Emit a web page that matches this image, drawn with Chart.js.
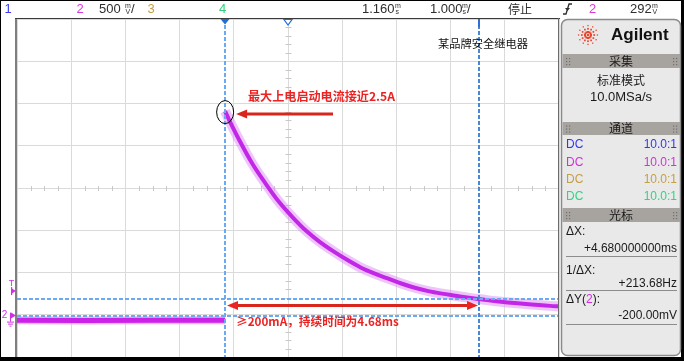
<!DOCTYPE html>
<html><head><meta charset="utf-8">
<script src="https://cdn.jsdelivr.net/npm/chart.js@4/dist/chart.umd.min.js"></script>
<style>html,body{margin:0;padding:0;background:#fff;overflow:hidden}canvas{display:block}</style>
</head><body>
<canvas id="c" width="684" height="361"></canvas>
<script>
// ---- axis ranges (ms, V) ----
const xMin = -3.84, xMax = 6.16, xDivs = 10;
const yMin = -0.49, yMax = 3.51, yDivs = 8;

// ---- channel 2 trace (time in ms, volts) ----
const baselineTimes = [-3.84, -2.6, -1.3, 0.0];
const baselineVolts = [-0.055, -0.057, -0.055, -0.056];
const decayTimes = [0, 0.1, 0.25, 0.5, 0.75, 1.0, 1.25, 1.5, 1.75, 2.0, 2.25, 2.5, 2.75, 3.0, 3.25, 3.5, 3.75, 4.0, 4.25, 4.5, 4.75, 5.0, 5.5, 6.0, 6.16];
const decayVolts = [2.42, 2.28, 2.09, 1.80, 1.56, 1.34, 1.16, 1.00, 0.87, 0.76, 0.66, 0.57, 0.50, 0.44, 0.38, 0.33, 0.29, 0.26, 0.235, 0.21, 0.19, 0.17, 0.14, 0.115, 0.11];

// ---- cursors ----
const cursorTimes = [0, 4.68];
const cursorVolts = [0.2, 0.0];
const triggerLevel = 0.29;

// ---- texts ----
const topTitle = "某品牌安全继电器";
const peakNote = "最大上电启动电流接近2.5A";
const durationNote = "≥200mA，持续时间为4.68ms";
const channelCoupling = ["DC", "DC", "DC", "DC"];
const channelProbe = ["10.0:1", "10.0:1", "10.0:1", "10.0:1"];
const channelColors = ["#3434f4", "#d42ee0", "#c4a044", "#30d484"];

const pts = (ts, vs) => ts.map((t, i) => ({ x: t, y: vs[i] }));
const SANS = "'Liberation Sans', Arial, sans-serif";
const CJK = "'Noto Sans CJK SC', sans-serif";

function txt(ctx, s, x, y, font, color, align) {
  ctx.font = font; ctx.fillStyle = color; ctx.textAlign = align || 'left'; ctx.textBaseline = 'middle';
  ctx.fillText(s, x, y);
}
function fitTxt(ctx, s, x, y, width, weight, family, color) {
  ctx.font = weight + ' 12px ' + family;
  const w = ctx.measureText(s).width;
  const size = 12 * width / w;
  txt(ctx, s, x, y, weight + ' ' + size.toFixed(2) + 'px ' + family, color, 'left');
}
function stacked(ctx, a, b, x, color) {
  txt(ctx, a, x, 6, '7px ' + SANS, color, 'left');
  txt(ctx, b, x + 0.5, 12.5, '7px ' + SANS, color, 'left');
}
function arrowHead(ctx, tipX, y, dir) {
  ctx.beginPath();
  ctx.moveTo(tipX, y);
  ctx.lineTo(tipX - dir * 11, y - 4.5);
  ctx.lineTo(tipX - dir * 11, y + 4.5);
  ctx.closePath(); ctx.fill();
}
function grip(ctx, x, y) {
  ctx.fillStyle = '#707070';
  for (let i = 0; i < 2; i++) for (let j = 0; j < 3; j++) ctx.fillRect(x + i * 3, y - 3 + j * 3, 1.2, 1.2);
}

const scopePlugin = {
  id: 'scope',
  beforeDraw(chart) {
    const c = chart.ctx; c.save();
    c.fillStyle = '#ffffff'; c.fillRect(0, 0, 684, 361);
    c.restore();
  },
  beforeDatasetsDraw(chart) {
    const c = chart.ctx, a = chart.chartArea, xs = chart.scales.x, ys = chart.scales.y;
    c.save();
    const cx = Math.round(xs.getPixelForValue((xMin + xMax) / 2)) + 0.5;
    const cy = Math.round(ys.getPixelForValue((yMin + yMax) / 2)) + 0.5;
    c.strokeStyle = '#c8c8c8'; c.lineWidth = 1;
    const dx = (a.right - a.left) / xDivs / 4;
    for (let i = 1; i < xDivs * 4; i++) {
      if (i % 4 === 0) continue;
      const x = Math.round(a.left + i * dx) + 0.5;
      c.beginPath(); c.moveTo(x, cy - 2.5); c.lineTo(x, cy + 2.5); c.stroke();
    }
    const dy = (a.bottom - a.top) / yDivs / 5;
    for (let i = 1; i < yDivs * 5; i++) {
      if (i % 5 === 0) continue;
      const y = Math.round(a.top + i * dy) + 0.5;
      c.beginPath(); c.moveTo(cx - 3, y); c.lineTo(cx + 3, y); c.stroke();
    }
    c.restore();
  },
  afterDatasetsDraw(chart) {
    const c = chart.ctx, a = chart.chartArea, xs = chart.scales.x, ys = chart.scales.y;
    c.save();
    // cursors
    c.lineWidth = 2; c.setLineDash([4, 2]);
    const x1 = Math.round(xs.getPixelForValue(cursorTimes[0]));
    const x2 = Math.round(xs.getPixelForValue(cursorTimes[1]));
    const y1 = Math.round(ys.getPixelForValue(cursorVolts[0]));
    const y2 = Math.round(ys.getPixelForValue(cursorVolts[1]));
    c.strokeStyle = '#6aaaf2';
    c.beginPath(); c.moveTo(x1, a.top); c.lineTo(x1, a.bottom); c.stroke();
    c.beginPath(); c.moveTo(a.left, y1); c.lineTo(a.right, y1); c.stroke();
    c.beginPath(); c.moveTo(a.left, y2); c.lineTo(a.right, y2); c.stroke();
    c.strokeStyle = '#4a86d6';
    c.beginPath(); c.moveTo(x2, a.top); c.lineTo(x2, a.bottom); c.stroke();
    c.setLineDash([]);
    c.fillStyle = '#2f6fd0'; c.fillRect(x2 - 1, a.top, 2, 8);

    // top markers
    c.fillStyle = '#1f6fd6';
    c.beginPath(); c.moveTo(x1 - 4.5, a.top); c.lineTo(x1 + 4.5, a.top); c.lineTo(x1, a.top + 5.5); c.closePath(); c.fill();
    const xc = xs.getPixelForValue((xMin + xMax) / 2);
    c.fillStyle = '#fff'; c.strokeStyle = '#1f6fd6'; c.lineWidth = 1.2;
    c.beginPath(); c.moveTo(xc - 4, a.top + 0.5); c.lineTo(xc + 4, a.top + 0.5); c.lineTo(xc, a.top + 6); c.closePath(); c.fill(); c.stroke();

    // ellipse around the peak
    const px = xs.getPixelForValue(decayTimes[0]);
    const py = ys.getPixelForValue(decayVolts[0]);
    c.strokeStyle = '#000'; c.lineWidth = 1;
    c.beginPath(); c.ellipse(px, py + 1, 8.5, 11.5, 0, 0, Math.PI * 2); c.stroke();

    // red arrow to peak
    const red = '#d8261c';
    c.strokeStyle = red; c.fillStyle = red; c.lineWidth = 3;
    const ay = py + 3;
    c.beginPath(); c.moveTo(333, ay); c.lineTo(px + 20, ay); c.stroke();
    arrowHead(c, px + 11, ay, -1);
    fitTxt(c, peakNote, 248, 96, 147, 'bold', CJK, '#ec2323');

    // duration double arrow
    const dyA = (y1 + y2) / 2 - 2;
    c.beginPath(); c.moveTo(x1 + 10, dyA); c.lineTo(x2 - 10, dyA); c.stroke();
    arrowHead(c, x1 + 2, dyA, -1);
    arrowHead(c, x2 - 1, dyA, 1);
    fitTxt(c, durationNote, 236, 322, 163, 'bold', CJK, '#ec2323');

    // title
    fitTxt(c, topTitle, 438, 44, 90, 'normal', CJK, '#111');
    c.restore();
  },
  afterDraw(chart) {
    const c = chart.ctx, a = chart.chartArea, ys = chart.scales.y;
    c.save();
    // plot borders
    c.fillStyle = '#7f7f7f'; c.fillRect(15, a.top, 2, a.bottom - a.top);
    c.fillStyle = '#3a3a3a'; c.fillRect(15, a.top - 1, a.right - 14, 1);
    c.fillStyle = '#6a6a6a'; c.fillRect(a.right - 1, a.top - 1, 1, a.bottom - a.top + 1);
    // outer frame
    c.fillStyle = '#000';
    c.fillRect(0, 357, 684, 4); c.fillRect(0, 0, 684, 1); c.fillRect(0, 0, 1, 361); c.fillRect(681, 0, 3, 361);

    // left markers
    const mag = '#d22ee6';
    const ty = ys.getPixelForValue(triggerLevel);
    txt(c, 'T', 11.5, ty - 8, '9px ' + SANS, mag, 'center');
    c.fillStyle = mag;
    c.beginPath(); c.moveTo(11, ty - 3); c.lineTo(16, ty); c.lineTo(11, ty + 3); c.closePath(); c.fill();
    c.fillRect(11, ty - 4, 1.2, 8);
    const gy = ys.getPixelForValue(0);
    txt(c, '2', 4.5, gy, '10px ' + SANS, mag, 'center');
    c.beginPath(); c.moveTo(11, gy - 3); c.lineTo(16, gy); c.lineTo(11, gy + 3); c.closePath(); c.fill();
    c.fillRect(10, gy - 3, 1, 9);
    c.fillRect(7, gy + 6, 7, 1); c.fillRect(8, gy + 8, 5, 1); c.fillRect(9.5, gy + 10, 2, 1);

    // top bar
    const dark = '#2e2e2e';
    txt(c, '1', 8, 9, '13px ' + SANS, '#3b3bf6', 'center');
    txt(c, '2', 80, 9, '13px ' + SANS, '#d83ad8', 'center');
    txt(c, '500', 99, 9, '13px ' + SANS, dark, 'left');
    stacked(c, 'm', 'V', 125, dark);
    txt(c, '/', 131, 9, '13px ' + SANS, dark, 'left');
    txt(c, '3', 151, 9, '13px ' + SANS, '#c4a044', 'center');
    txt(c, '4', 222.5, 9, '13px ' + SANS, '#2fcf7c', 'center');
    txt(c, '1.160', 362, 9, '13px ' + SANS, dark, 'left');
    stacked(c, 'm', 's', 395, dark);
    txt(c, '1.000', 430, 9, '13px ' + SANS, dark, 'left');
    stacked(c, 'm', 's', 462, dark);
    txt(c, '/', 467, 9, '13px ' + SANS, dark, 'left');
    txt(c, '停止', 508, 9, '12px ' + CJK, dark, 'left');
    // trigger edge icon
    c.strokeStyle = dark; c.lineWidth = 1.3;
    c.beginPath(); c.moveTo(563, 14); c.lineTo(566, 14); c.lineTo(569, 4); c.lineTo(572, 4); c.stroke();
    c.fillStyle = dark;
    c.beginPath(); c.moveTo(565, 8); c.lineTo(570, 8); c.lineTo(567.5, 11); c.closePath(); c.fill();
    txt(c, '2', 592.5, 9, '13px ' + SANS, '#d83ad8', 'center');
    txt(c, '292', 630, 9, '13px ' + SANS, dark, 'left');
    stacked(c, 'm', 'V', 652, dark);

    // right panel
    c.fillStyle = '#e9e9e9'; c.strokeStyle = '#8a8a8a'; c.lineWidth = 1.5;
    c.beginPath(); c.roundRect(561.5, 19.5, 119, 336, 6); c.fill(); c.stroke();
    // Agilent logo
    const lx = 588, ly = 35;
    c.fillStyle = '#e8452c';
    for (let k = 0; k < 12; k++) {
      const ang = k * Math.PI / 6;
      for (let r = 3; r <= 11; r += 3.2) {
        const s = r < 5 ? 2 : (r < 8 ? 1.7 : 1.3);
        c.fillRect(lx + Math.cos(ang) * r - s / 2, ly + Math.sin(ang) * r - s / 2, s, s);
      }
    }
    c.fillRect(lx - 1, ly - 1, 2, 2);
    txt(c, 'Agilent', 611, 35.5, 'bold 17px ' + SANS, '#111', 'left');
    // section headers
    const headers = [['采集', 54, 68], ['通道', 122, 135], ['光标', 208, 222]];
    headers.forEach(h => {
      c.fillStyle = '#a7a39f'; c.fillRect(562.5, h[1], 117.5, h[2] - h[1]);
      txt(c, h[0], 621, (h[1] + h[2]) / 2, '12px ' + CJK, '#1a1a1a', 'center');
      grip(c, 566, (h[1] + h[2]) / 2); grip(c, 673, (h[1] + h[2]) / 2);
    });
    txt(c, '标准模式', 621, 80, '12px ' + CJK, '#1a1a1a', 'center');
    txt(c, '10.0MSa/s', 621, 97, '13px ' + SANS, '#1a1a1a', 'center');
    const rowY = [145, 162.5, 180, 196.5];
    rowY.forEach((y, i) => {
      txt(c, channelCoupling[i], 566, y, '12px ' + SANS, channelColors[i], 'left');
      txt(c, channelProbe[i], 677, y, '12px ' + SANS, channelColors[i], 'right');
    });
    const blk = '#1a1a1a';
    txt(c, 'ΔX:', 566, 232, '12px ' + SANS, blk, 'left');
    txt(c, '+' + cursorTimes[1].toFixed(9) + 'ms', 677, 249, '12px ' + SANS, blk, 'right');
    txt(c, '1/ΔX:', 566, 271, '12px ' + SANS, blk, 'left');
    txt(c, '+' + (1000 / (cursorTimes[1] - cursorTimes[0])).toFixed(2) + 'Hz', 677, 284, '12px ' + SANS, blk, 'right');
    c.font = '12px ' + SANS;
    const w1 = c.measureText('ΔY(').width, w2 = c.measureText('2').width;
    txt(c, 'ΔY(', 566, 300, '12px ' + SANS, blk, 'left');
    txt(c, '2', 566 + w1, 300, '12px ' + SANS, '#d22ee6', 'left');
    txt(c, '):', 566 + w1 + w2, 300, '12px ' + SANS, blk, 'left');
    txt(c, ((cursorVolts[1] - cursorVolts[0]) * 1000).toFixed(2) + 'mV', 677, 316, '12px ' + SANS, blk, 'right');
    c.fillStyle = '#8c8c8c';
    [256, 290, 324].forEach(y => c.fillRect(566, y, 111, 1));
    c.restore();
  }
};

const gridOpts = { color: '#dadada', lineWidth: 1, drawTicks: false };
new Chart(document.getElementById('c'), {
  type: 'scatter',
  data: {
    datasets: [
      { data: pts(baselineTimes, baselineVolts), showLine: true, borderColor: '#cc22e8', borderWidth: 5, pointRadius: 0 },
      { data: pts(decayTimes, decayVolts), showLine: true, borderColor: '#c226e6', borderWidth: 4, pointRadius: 0, cubicInterpolationMode: 'monotone' },
      { data: pts(baselineTimes, baselineVolts), showLine: true, borderColor: 'rgba(222,120,246,0.55)', borderWidth: 8, pointRadius: 0 },
      { data: pts(decayTimes, decayVolts), showLine: true, borderColor: 'rgba(222,140,248,0.5)', borderWidth: 10, pointRadius: 0, cubicInterpolationMode: 'monotone' }
    ]
  },
  options: {
    responsive: false, animation: false,
    layout: { padding: { left: 17, top: 19, right: 125, bottom: 4 } },
    plugins: { legend: { display: false }, tooltip: { enabled: false } },
    scales: {
      x: {
        type: 'linear', min: xMin, max: xMax,
        ticks: { display: false }, grid: gridOpts, border: { display: false },
        afterBuildTicks: s => { s.ticks = Array.from({ length: xDivs + 1 }, (_, i) => ({ value: xMin + i * (xMax - xMin) / xDivs })); }
      },
      y: {
        type: 'linear', min: yMin, max: yMax,
        ticks: { display: false }, grid: gridOpts, border: { display: false },
        afterBuildTicks: s => { s.ticks = Array.from({ length: yDivs + 1 }, (_, i) => ({ value: yMin + i * (yMax - yMin) / yDivs })); }
      }
    }
  },
  plugins: [scopePlugin]
});
</script>
</body></html>
